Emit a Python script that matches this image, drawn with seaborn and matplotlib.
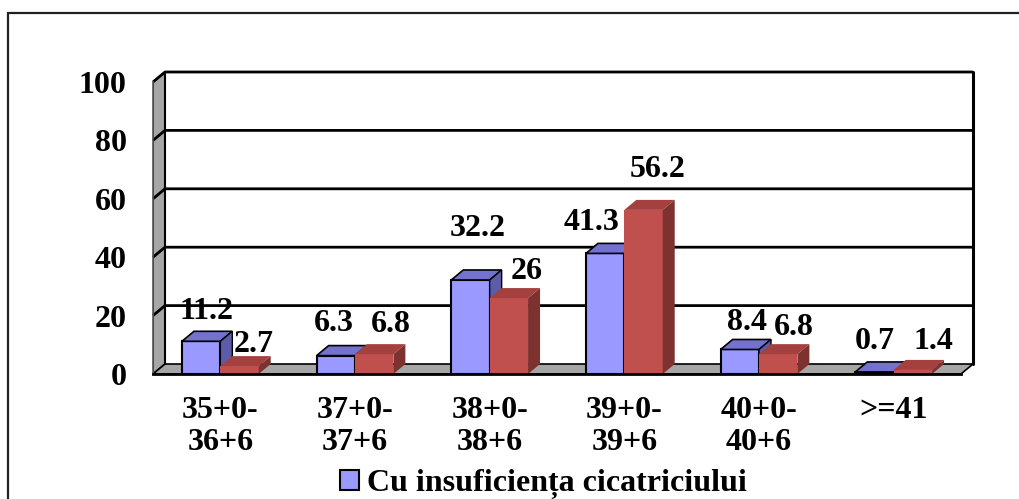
import matplotlib
matplotlib.use("Agg")
import matplotlib.pyplot as plt
from matplotlib.patches import Polygon, Patch, Rectangle
import numpy as np
import pandas as pd
import seaborn as sns

# ---- data -------------------------------------------------------------
categories = ["35+0-\n36+6", "37+0-\n37+6", "38+0-\n38+6",
              "39+0-\n39+6", "40+0-\n40+6", ">=41"]
series_names = ["Cu insuficiența cicatriciului", "Fără insuficiența cicatriciului"]
values_a = [11.2, 6.3, 32.2, 41.3, 8.4, 0.7]
values_b = [2.7, 6.8, 26, 56.2, 6.8, 1.4]
y_ticks = [0, 20, 40, 60, 80, 100]

# ---- styling ------------------------------------------------------------
sns.set_style("white")
plt.rcParams["font.family"] = ["Liberation Serif", "DejaVu Serif"]
plt.rcParams["font.weight"] = "bold"
plt.rcParams["text.color"] = "black"
plt.rcParams["xtick.labelcolor"] = "black"
plt.rcParams["ytick.labelcolor"] = "black"
FS = 23

front_cols = ["#9999FF", "#C0504D"]
top_cols = ["#7373CF", "#A4403E"]
side_cols = ["#5C5CA8", "#7E3230"]
edge_cols = ["black", "none"]
wall_col = "#A6A6A6"

W, H = 1020, 499
fig = plt.figure(figsize=(W / 100, H / 100), dpi=100)

# plot area in pixels: front axis x=153, back wall right x=973, floor y=374, wall top y=72
px_left, px_right, px_floor, px_top = 153, 973, 374, 72
ax = fig.add_axes([px_left / W, (H - px_floor) / H,
                   (px_right - px_left) / W, (px_floor - px_top) / H])

cat_px = (961 - 153) / len(categories)
y_px = (374 - 82) / 100.0
DX = 12 / cat_px          # depth offset (category units)
DY = 10 / y_px            # depth offset (value units)
xmin, xmax = -0.5, len(categories) - 0.5

# ---- bars ---------------------------------------------------------------------
df = pd.DataFrame({
    "cat": categories * 2,
    "series": [series_names[0]] * len(categories) + [series_names[1]] * len(categories),
    "val": values_a + values_b,
})
sns.barplot(data=df, x="cat", y="val", hue="series", palette=front_cols,
            width=0.57, dodge=True, ax=ax, legend=False, saturation=1)

ax.set_xlim(xmin, xmax + DX)
ax.set_ylim(0, 100 + DY)
ax.set_facecolor("none")

# ---- walls and floor ----------------------------------------------------------
ax.add_patch(Polygon([(xmin, 0), (xmin + DX, DY), (xmin + DX, 100 + DY), (xmin, 100)],
                     closed=True, facecolor=wall_col, edgecolor="black", lw=1.2, zorder=0.5))
ax.add_patch(Polygon([(xmin, 0), (xmax, 0), (xmax + DX, DY), (xmin + DX, DY)],
                     closed=True, facecolor=wall_col, edgecolor="black", lw=1.2, zorder=0.5))
for t in y_ticks[1:]:
    ax.plot([xmin, xmin + DX, xmax + DX], [t, t + DY, t + DY], color="black",
            lw=2, zorder=0.6, clip_on=False, solid_capstyle="butt")
ax.plot([xmax + DX, xmax + DX], [DY, 100 + DY], color="black", lw=2.2, zorder=0.6, clip_on=False)
ax.plot([xmin + DX, xmin + DX], [DY, 100 + DY], color="black", lw=1.5, zorder=0.6)

for si, cont in enumerate(ax.containers):
    for bar in cont.patches:
        x0, w, h = bar.get_x(), bar.get_width(), bar.get_height()
        z = 2 + si
        bar.set_zorder(z)
        bar.set_edgecolor(edge_cols[si])
        bar.set_linewidth(1.5 if si == 0 else 0)
        top = Polygon([(x0, h), (x0 + w, h), (x0 + w + DX, h + DY), (x0 + DX, h + DY)],
                      closed=True, facecolor=top_cols[si],
                      edgecolor=edge_cols[si], lw=1.2 if si == 0 else 0, zorder=z + 0.1)
        side = Polygon([(x0 + w, 0), (x0 + w + DX, DY), (x0 + w + DX, h + DY), (x0 + w, h)],
                       closed=True, facecolor=side_cols[si],
                       edgecolor=edge_cols[si], lw=1.0 if si == 0 else 0, zorder=z + 0.1)
        ax.add_patch(top)
        ax.add_patch(side)

# value labels (pixel offsets from the top-front centre of each bar)
label_offsets = [
    [(5, 30), (-2, 32), (7, 51), (-14, 31), (7, 27), (0, 30)],
    [(14, 22), (17, 30), (18, 27), (14, 40), (16, 27), (21, 28)],
]
for si, cont in enumerate(ax.containers):
    vals = [values_a, values_b][si]
    for ci, bar in enumerate(cont.patches):
        v = vals[ci]
        ox, oy = label_offsets[si][ci]
        ax.annotate(f"{v:g}", (bar.get_x() + bar.get_width() / 2, v),
                    xytext=(ox, oy), textcoords="offset pixels",
                    ha="center", va="center", fontsize=FS, fontweight="bold",
                    color="black", zorder=6, annotation_clip=False)

# ---- axes ---------------------------------------------------------------------
for s in ["top", "right"]:
    ax.spines[s].set_visible(False)
ax.spines["left"].set_bounds(0, 100)
ax.spines["left"].set_color("#555555")
ax.spines["left"].set_linewidth(1.2)
ax.spines["bottom"].set_bounds(xmin, xmax)
ax.spines["bottom"].set_color("black")
ax.spines["bottom"].set_linewidth(2)
ax.spines["bottom"].set_zorder(5)

ax.set_yticks(y_ticks)
ax.set_yticklabels([str(t) for t in y_ticks], fontsize=FS, fontweight="bold")
ax.tick_params(axis="y", direction="inout", length=12, width=1.2, color="#888888", pad=13)

ax.set_xticks(range(len(categories)))
ax.set_xticklabels(categories, fontsize=FS, fontweight="bold", linespacing=1.12)
ax.set_xticks(np.arange(len(categories) + 1) - 0.5, minor=True)
ax.tick_params(axis="x", which="major", length=0, pad=16)
ax.tick_params(axis="x", which="minor", direction="out", length=7, width=1, color="#555555")
ax.set_xlabel("")
ax.set_ylabel("")
ax.grid(False)

# ---- legend -------------------------------------------------------------------
handle = Patch(facecolor=front_cols[0], edgecolor="black", lw=1.5)
fig.legend([handle], [series_names[0]], loc="center left",
           bbox_to_anchor=(324 / W, (H - 484) / H), frameon=False,
           prop={"weight": "bold", "size": FS}, labelcolor="black",
           handlelength=0.6, handleheight=0.6, handletextpad=0.25, borderpad=0)

# ---- chart frame ----------------------------------------------------------------
fig.add_artist(Rectangle((8 / W, -0.05), 1.1, (H - 13) / H + 0.05, transform=fig.transFigure,
                         facecolor="none", edgecolor="#222222", lw=1.6, clip_on=False))

fig.savefig("out.png", dpi=100)
